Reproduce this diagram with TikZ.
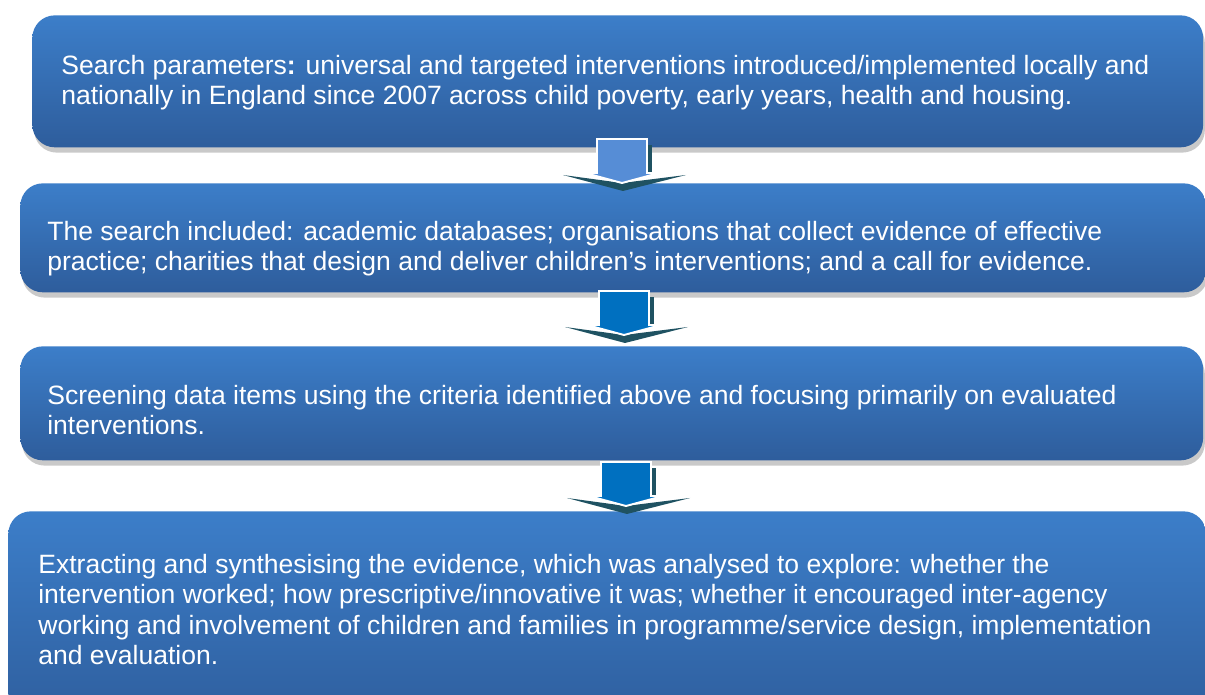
\documentclass[tikz,border=0pt]{standalone}
\usepackage{fontspec}
\setmainfont{Liberation Sans}
\usetikzlibrary{shadows}
\definecolor{boxtop}{RGB}{60,126,201}
\definecolor{boxbottom}{RGB}{46,93,156}
\definecolor{arrowlight}{RGB}{86,141,214}
\definecolor{arrowdark}{RGB}{0,112,192}
\definecolor{arrowside}{RGB}{31,82,98}
\begin{document}
\begin{tikzpicture}%
	[x=0.02cm,
	y=-0.02cm,
	stepbox/.style={rounded corners=0.45cm, top color=boxtop, bottom color=boxbottom, draw=none, inner sep=0pt, anchor=north west,
		drop shadow={shadow xshift=1pt, shadow yshift=-3pt, opacity=0.3, fill=black!70}},
	steptext/.style={anchor=north west, inner sep=0pt, align=left, text=white, font=\fontsize{15.1}{17.2}\selectfont},
	arrowedge/.style={draw=white, line width=1.1pt, line join=miter},
	arrowshade/.style={fill=arrowside}]
%
\useasboundingbox (0,0) rectangle (1205,695);
%%
%% Drawing the boxes
%%
\node[stepbox, minimum width=23.42cm, minimum height=2.64cm] (b1) at (32,15) {};
\node[stepbox, minimum width=23.72cm, minimum height=2.18cm] (b2) at (20,183) {};
\node[stepbox, minimum width=23.66cm, minimum height=2.28cm] (b3) at (20,346) {};
\node[stepbox, minimum width=23.96cm, minimum height=4.38cm] (b4) at (8,511) {};
%%
%% Texts
%%
\node[steptext] (t1) at (61,55) {Search parameters\textbf{:} universal and targeted interventions introduced/implemented locally and\\nationally in England since 2007 across child poverty, early years, health and housing.};
\node[steptext] (t2) at (47,221) {The search included: academic databases; organisations that collect evidence of effective\\practice; charities that design and deliver children’s interventions; and a call for evidence.};
\node[steptext] (t3) at (47,385) {Screening data items using the criteria identified above and focusing primarily on evaluated\\interventions.};
\node[steptext] (t4) at (38,554) {Extracting and synthesising the evidence, which was analysed to explore: whether the\\intervention worked; how prescriptive/innovative it was; whether it encouraged inter-agency\\working and involvement of children and families in programme/service design, implementation\\and evaluation.};
%%
%% Drawing the arrows in between
%%
\foreach \ax/\ay/\acol in {597/139/arrowlight, 599/291/arrowdark, 601/462/arrowdark}
{
\begin{scope}[shift={(\ax,\ay)}]
\fill[arrowshade] (-34,36) -- (25,44) -- (89,36) -- (26,52) -- cycle;
\fill[arrowshade] (51,6) rectangle (55,35);
\filldraw[arrowedge, fill=\acol] (0,0) -- (50,0) -- (50,34) -- (62,34) -- (25,44) -- (-12,34) -- (0,34) -- cycle;
\end{scope}
}
\end{tikzpicture}
\end{document}
